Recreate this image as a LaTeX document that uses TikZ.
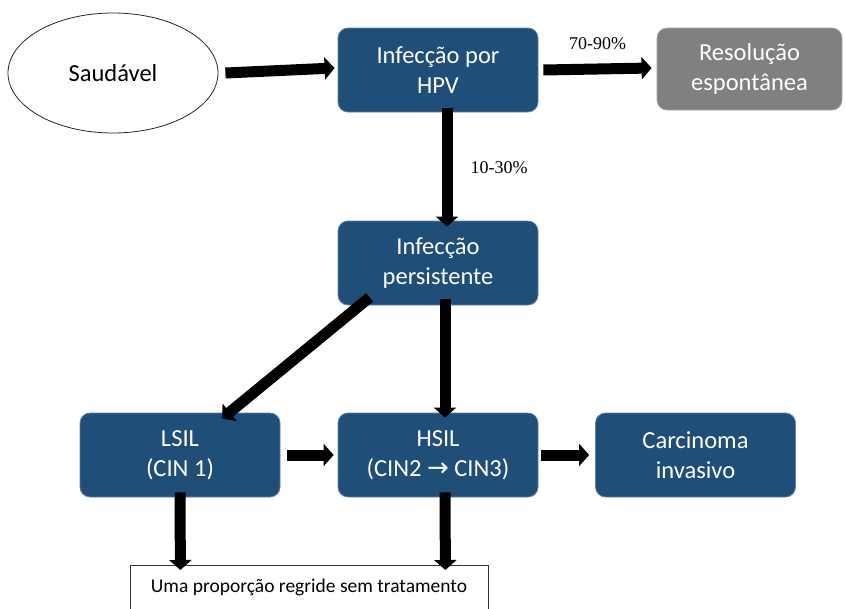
\documentclass[tikz,border=0pt]{standalone}
\usepackage{fontspec}
\setmainfont{Carlito}
\newfontfamily\labfont{Liberation Serif}
\newfontfamily\symfont{DejaVu Sans}
\usetikzlibrary{shapes.geometric,arrows.meta}
\definecolor{boxblue}{RGB}{31,78,121}
\definecolor{boxgrey}{RGB}{128,128,128}
\begin{document}
\begin{tikzpicture}[x=1pt,y=-1pt,
  bluebox/.style={draw=boxblue!70!white,line width=0.8pt,fill=boxblue,rounded corners=10pt,
    minimum width=200pt,minimum height=84pt,text=white,align=center,
    font=\fontsize{24.5}{30}\selectfont,inner sep=0pt},
  greybox/.style={bluebox,fill=boxgrey,draw=boxgrey!70!white,minimum width=185pt,minimum height=82pt},
  arr/.style={line width=11pt,-{Triangle[length=10pt,width=22pt]}},
  lab/.style={font=\labfont\fontsize{18}{20}\selectfont,inner sep=0pt}]
\useasboundingbox (0,0) rectangle (845,608);
\begin{scope}
\clip (0,0) rectangle (845,608);
\node[draw=black!80,line width=0.8pt,fill=white,minimum width=358pt,minimum height=60pt,
  anchor=north west,inner sep=0pt] (bot) at (130,565) {};
\end{scope}
\node[font=\fontsize{19.5}{22}\selectfont] (bottxt) at (309,587) {Uma proporção regride sem tratamento};
\node[draw=black!85,line width=0.8pt,ellipse,minimum width=210pt,minimum height=120pt,
  font=\fontsize{24.5}{28}\selectfont,inner sep=0pt] (sa) at (113,73) {Saudável};
\node[bluebox] (hpv) at (438,70) {Infecção por\\HPV};
\node[greybox] (res) at (749.5,69) {Resolução\\espontânea};
\node[bluebox] (pers) at (438,263) {Infecção\\persistente};
\node[bluebox] (lsil) at (180,455) {LSIL\\(CIN 1)};
\node[bluebox] (hsil) at (438,455) {HSIL\\(CIN2 {\symfont\fontsize{26}{30}\selectfont →} CIN3)};
\node[bluebox] (car) at (695.5,455) {Carcinoma\\invasivo};
\draw[arr] ([xshift=7pt]sa.east) -- ([xshift=-3pt,yshift=2pt]hpv.west);
\draw[arr] ([xshift=5pt]hpv.east) -- ([xshift=-5pt,yshift=1pt]res.west)
  node[lab,midway,above=14pt] (l1) {70-90\%};
\draw[arr] ([xshift=9pt,yshift=4pt]hpv.south) -- ([xshift=9pt,yshift=-6pt]pers.north)
  node[lab,midway,right=18pt] (l2) {10-30\%};
\draw[arr] ([xshift=32pt,yshift=8pt]pers.south west) -- ([xshift=42pt,yshift=-6pt]lsil.north);
\draw[arr] ([xshift=7pt,yshift=6pt]pers.south) -- ([xshift=7pt,yshift=-5pt]hsil.north);
\draw[arr] ([xshift=7pt]lsil.east) -- ([xshift=-4pt]hsil.west);
\draw[arr] ([xshift=3pt]hsil.east) -- ([xshift=-6pt]car.west);
\draw[arr] ([yshift=5pt]lsil.south) -- ([xshift=-129pt,yshift=-5pt]bot.north);
\draw[arr] ([xshift=7pt,yshift=5pt]hsil.south) -- ([xshift=136pt,yshift=-5pt]bot.north);
\end{tikzpicture}
\end{document}
